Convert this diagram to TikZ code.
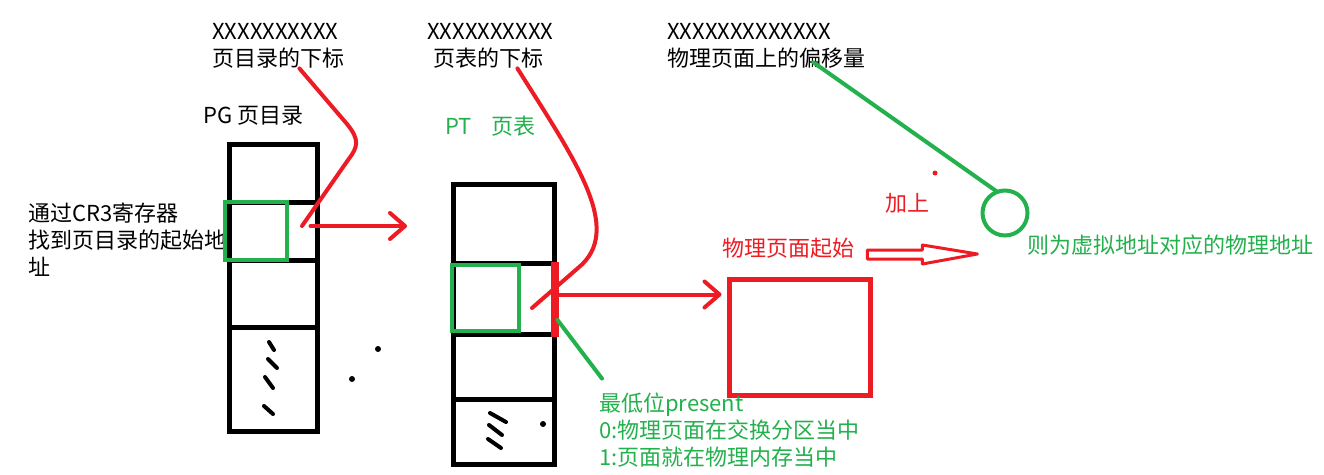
\documentclass[tikz,border=0pt]{standalone}
\usepackage{fontspec}
\setmainfont{Noto Sans CJK SC}
\usepackage{tikz}
\usetikzlibrary{arrows.meta, positioning}
\definecolor{PaintRed}{RGB}{237, 28, 36}
\definecolor{PaintGreen}{RGB}{34, 177, 76}

\begin{document}
\begin{tikzpicture}[
    x=1pt, y=-1pt,
    lbl/.style={font=\fontsize{22}{27}\selectfont, inner sep=0pt, anchor=west, align=left},
    redlbl/.style={lbl, text=PaintRed},
    greenlbl/.style={lbl, text=PaintGreen},
    cell/.style={draw=black, fill=white, line width=5pt, rectangle, inner sep=0pt, outer sep=0pt},
    selbox/.style={draw=PaintGreen, line width=4pt, rectangle, inner sep=0pt, outer sep=0pt},
    redpen/.style={draw=PaintRed, line width=4pt, line cap=round, line join=round},
    greenpen/.style={draw=PaintGreen, line width=4pt, line cap=round},
    redarrow/.style={redpen, -{Straight Barb[length=15pt, width=26pt, round]}},
    stroke/.style={draw=black, line width=4pt, line cap=round}
]
\fill [white] (0,0) rectangle (1324,474);
\useasboundingbox (0,0) rectangle (1324,474);

% address bits
\node (pgbits) [lbl] at (212,31) {XXXXXXXXXX};
\node (pgidx) [lbl] at (212,58) {页目录的下标};
\node (ptbits) [lbl] at (427,31) {XXXXXXXXXX};
\node (ptidx) [lbl] at (433,58) {页表的下标};
\node (offbits) [lbl] at (667,31) {XXXXXXXXXXXXX};
\node (offidx) [lbl] at (667,58) {物理页面上的偏移量};

\node (pglbl) [lbl] at (203,116) {PG 页目录};
\node (ptlbl) [greenlbl] at (445,126) {PT\hspace{20pt}页表};
\node (cr3) [lbl] at (28,240) {通过CR3寄存器\\找到页目录的起始地\\址};

% page directory
\node (pg1) [cell, minimum width=88pt, minimum height=57.5pt] at (273.5,173.25) {};
\node (pg2) [cell, minimum width=88pt, minimum height=58pt, below=0pt of pg1] {};
\node (pg3) [cell, minimum width=88pt, minimum height=67pt, below=0pt of pg2] {};
\node (pg4) [cell, minimum width=88pt, minimum height=104.5pt, below=0pt of pg3] {};
\node (pgsel) [selbox, minimum width=62pt, minimum height=58pt] at (256,231) {};
\draw [stroke] (269,342) -- (274,350);
\draw [stroke] (268,359) -- (277,368);
\draw [stroke] (265,377) -- (273,388);
\draw [stroke] (264,406) -- (273,414);
\fill (378,349) circle (3pt);
\fill (352,379) circle (3pt);

% page table
\node (pt1) [cell, minimum width=101pt, minimum height=78.5pt] at (504,223.75) {};
\node (pt2) [cell, minimum width=101pt, minimum height=71pt, below=0pt of pt1] {};
\node (pt3) [cell, minimum width=101pt, minimum height=65pt, below=0pt of pt2] {};
\node (pt4) [cell, minimum width=101pt, minimum height=65.5pt, below=0pt of pt3] {};
\node (ptsel) [selbox, minimum width=67pt, minimum height=66pt] at (485.5,298) {};
\draw [draw=PaintRed, line width=8pt] ([yshift=1pt]pt2.north east) -- ([yshift=-3pt]pt2.south east);
\draw [stroke] (490,413) -- (506,422);
\draw [stroke] (489,425) -- (502,435);
\draw [stroke] (488,439) -- (501,448);
\fill (543,424) circle (3pt);

% physical page
\node (page) [cell, draw=PaintRed, minimum width=141pt, minimum height=116pt] at (800,337.5) {};
\node (pgstart) [redlbl] at (722,248) {物理页面起始};
\node (plus) [redlbl] at (885,203) {加上};
\node (sum) [circle, draw=PaintGreen, line width=4pt, minimum size=45pt, inner sep=0pt, outer sep=0pt] at (1005,213) {};
\node (result) [greenlbl] at (1027,245) {则为虚拟地址对应的物理地址};
\node (present) [greenlbl] at (599,430) {最低位present\\0:物理页面在交换分区当中\\1:页面就在物理内存当中};
\fill [PaintRed] (935,173) circle (2.5pt);

\coordinate (pgentry) at (302,226);
\coordinate (ptentry) at (532,308);
\coordinate (pgout) at (407,226);

\draw [redpen] ([xshift=-45pt]pgidx.south east) -- (347,124) .. controls (360,140) and (358,147) .. (348,160) -- (pgentry);
\draw [redarrow] ([xshift=-7pt,yshift=5pt]pg2.east) -- (pgout);
\draw [redpen] ([xshift=-26pt]ptidx.south east) .. controls (575,160) and (625,230) .. (578,268) -- (ptentry);
\draw [redarrow] ([yshift=4pt]pt2.east) -- ++(167,0);
\draw [greenpen] ([xshift=3pt,yshift=14pt]pt2.south east) -- ([xshift=3pt,yshift=14pt]present.north west);
\draw [greenpen] ([xshift=-52pt,yshift=6pt]offidx.south east) -- (sum.110);
\begin{scope}[shift={(pgstart.east)}]
  \draw [redpen, line width=3pt] (13,2) -- (68,2) -- (68,-3) -- (123,6) -- (68,16) -- (68,11) -- (13,11) -- cycle;
\end{scope}

\end{tikzpicture}
\end{document}
